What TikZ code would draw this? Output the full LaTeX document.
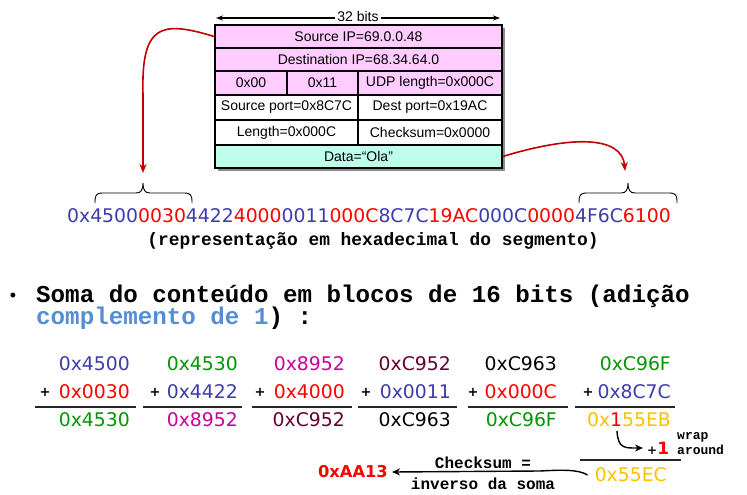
\documentclass[tikz,border=0pt]{standalone}
\usepackage{fontspec}
\setmainfont{Liberation Sans}
\newfontfamily\numf{DejaVu Sans}
\newfontfamily\monob{Liberation Mono}
\usetikzlibrary{arrows.meta}
\definecolor{pinkc}{RGB}{255,204,255}
\definecolor{aquac}{RGB}{190,255,235}
\definecolor{arrowred}{RGB}{192,0,0}
\definecolor{hblue}{RGB}{60,60,170}
\definecolor{hred}{RGB}{255,0,0}
\definecolor{hgreen}{RGB}{0,150,0}
\definecolor{hmag}{RGB}{204,0,153}
\definecolor{hmar}{RGB}{102,0,51}
\definecolor{hyel}{RGB}{255,192,0}
\definecolor{lblue}{RGB}{85,142,213}
\definecolor{shad}{RGB}{140,140,140}
\begin{document}
\begin{tikzpicture}[x=1pt,y=-1pt,
  cell/.style={draw=black, line width=1.5pt, inner sep=0pt, font=\fontsize{14}{16}\selectfont},
  num/.style={font=\numf\fontsize{18.8}{20}\selectfont, inner sep=0pt, anchor=east},
  plussign/.style={font=\numf\bfseries\fontsize{13}{14}\selectfont, inner sep=0pt},
  sumline/.style={line width=1.4pt, draw=black!85},
  redarrow/.style={draw=arrowred, line width=1.6pt, -{Stealth[length=9pt,width=7pt]}},
  blkarrow/.style={draw=black, line width=1.4pt, -{Stealth[length=8pt,width=7pt]}},
  monotxt/.style={font=\monob\bfseries\fontsize{#1}{#1}\selectfont, inner sep=0pt},
  bracestyle/.style={draw=black, line width=0.9pt}
]
\useasboundingbox (0,0) rectangle (747,495);
\fill[white] (0,0) rectangle (747,495);

% ---- 32 bits dimension ----
\coordinate (dl) at (216,18);
\coordinate (dr) at (500,18);
\draw[line width=1.2pt, {Stealth[length=7pt,width=5pt]}-{Stealth[length=7pt,width=5pt]}] (dl) -- (dr);
\node[fill=white, inner sep=2pt, font=\fontsize{14}{16}\selectfont] (bits) at (358,16) {32 bits};

% ---- table ----
\fill[shad] (218,28) rectangle (505,171);
\node[cell, fill=pinkc, minimum width=287pt, minimum height=23pt] (r1) at (358.5,36.5) {Source IP=69.0.0.48};
\node[cell, fill=pinkc, minimum width=287pt, minimum height=23pt] (r2) at (358.5,59.5) {Destination IP=68.34.64.0};
\node[cell, fill=pinkc, minimum width=72pt, minimum height=24pt] (r3a) at (251,83) {0x00};
\node[cell, fill=pinkc, minimum width=71pt, minimum height=24pt] (r3b) at (322.5,83) {0x11};
\node[cell, fill=pinkc, minimum width=144pt, minimum height=24pt] (r3c) at (430,83) {UDP length=0x000C};
\node[cell, fill=white, minimum width=143pt, minimum height=25pt] (r4a) at (286.5,107.5) {Source port=0x8C7C};
\node[cell, fill=white, minimum width=144pt, minimum height=25pt] (r4b) at (430,107.5) {Dest port=0x19AC};
\node[cell, fill=white, minimum width=143pt, minimum height=25pt] (r5a) at (286.5,132.5) {Length=0x000C};
\node[cell, fill=white, minimum width=144pt, minimum height=25pt] (r5b) at (430,132.5) {Checksum=0x0000};
\node[cell, fill=aquac, minimum width=287pt, minimum height=23pt] (r6) at (358.5,156.5) {Data=“Ola”};

% ---- red arrows ----
\coordinate (lt) at (143,173);
\coordinate (rt) at (625,171);
\draw[redarrow] (r1.west) .. controls (160,20) and (141,25) .. (143,95) -- (lt);
\draw[redarrow] (r6.east) .. controls (570,136) and (622,135) .. (rt);

% ---- braces ----
\draw[bracestyle] (95,203) .. controls (95,195) and (96,193) .. (103,193) -- (136,193)
   .. controls (141,193) and (143,190) .. (143,183) .. controls (143,190) and (145,193) .. (150,193)
   -- (184,193) .. controls (191,193) and (192,195) .. (192,203);
\draw[bracestyle] (579,203) .. controls (579,195) and (580,193) .. (587,193) -- (621,193)
   .. controls (626,193) and (628,190) .. (628,183) .. controls (628,190) and (630,193) .. (635,193)
   -- (669,193) .. controls (676,193) and (677,195) .. (677,203);

% ---- hex string ----
\node[font=\numf\fontsize{18.8}{20}\selectfont, inner sep=0pt, anchor=west] (hex) at (67,216)
 {\textcolor{hblue}{0x4500}\textcolor{hred}{0030}\textcolor{hblue}{4422}\textcolor{hred}{4000}\textcolor{hblue}{0011}\textcolor{hred}{000C}\textcolor{hblue}{8C7C}\textcolor{hred}{19AC}\textcolor{hblue}{000C}\textcolor{hred}{0000}\textcolor{hblue}{4F6C}\textcolor{hred}{6100}};
\node[monotxt=17.9, anchor=base] (sub) at (373,245) {(representação em hexadecimal do segmento)};

% ---- bullet ----
\node[font=\fontsize{18}{18}\selectfont, inner sep=0pt] (bul) at (13,297) {•};
\node[monotxt=24.2, anchor=base west] (l1) at (36,302) {Soma do conteúdo em blocos de 16 bits (adição};
\node[monotxt=24.2, anchor=base west] (l2) at (36,324) {\textcolor{lblue}{complemento de 1}) :};

% ---- sums ----
% block 1
\node[num, text=hblue] (a1) at (130,364) {0x4500};
\node[num, text=hred] (b1) at (130,392) {0x0030};
\node[plussign] (p1) at (45,392) {+};
\node[num, text=hgreen] (c1) at (130,420) {0x4530};
\draw[sumline] (35,407) -- (136,407);
% block 2
\node[num, text=hgreen] (a2) at (238,364) {0x4530};
\node[num, text=hblue] (b2) at (238,392) {0x4422};
\node[plussign] (p2) at (155,392) {+};
\node[num, text=hmag] (c2) at (238,420) {0x8952};
\draw[sumline] (143,407) -- (242,407);
% block 3
\node[num, text=hmag] (a3) at (345,364) {0x8952};
\node[num, text=hred] (b3) at (345,392) {0x4000};
\node[plussign] (p3) at (260,392) {+};
\node[num, text=hmar] (c3) at (345,420) {0xC952};
\draw[sumline] (252,407) -- (352,407);
% block 4
\node[num, text=hmar] (a4) at (451,364) {0xC952};
\node[num, text=hblue] (b4) at (451,392) {0x0011};
\node[plussign] (p4) at (366,392) {+};
\node[num, text=black] (c4) at (451,420) {0xC963};
\draw[sumline] (358,407) -- (457,407);
% block 5
\node[num, text=black] (a5) at (557,364) {0xC963};
\node[num, text=hred] (b5) at (557,392) {0x000C};
\node[plussign] (p5) at (473,392) {+};
\node[num, text=hgreen] (c5) at (557,420) {0xC96F};
\draw[sumline] (468,407) -- (568,407);
% block 6
\node[num, text=hgreen] (a6) at (671,364) {0xC96F};
\node[num, text=hblue] (b6) at (671,392) {0x8C7C};
\node[plussign] (p6) at (588,392) {+};
\node[num] (c6) at (671,420) {\textcolor{hyel}{0x}\textcolor{hred}{1}\textcolor{hyel}{55EB}};
\draw[sumline] (575,407) -- (675,407);

% ---- wrap around ----
\coordinate (w0) at (617,431);
\node[inner sep=0pt, anchor=west] (p1w) at (647,448)
  {{\numf\bfseries\fontsize{12}{12}\selectfont +}{\numf\bfseries\fontsize{17}{17}\selectfont\textcolor{hred}{1}}};
\draw[blkarrow] (w0) .. controls (618,449) and (625,448) .. ([xshift=-4pt]p1w.west);
\node[monotxt=13, anchor=base west] (wr) at (677,439) {wrap};
\node[monotxt=13, anchor=base west] (ar) at (677,454) {around};
\draw[sumline] (580,460) -- (681,460);
\node[num, text=hyel] (s55) at (667,475) {0x55EC};

% ---- checksum ----
\node[font=\numf\bfseries\fontsize{16.3}{17}\selectfont, text=hred, inner sep=0pt, anchor=east] (aa) at (388,472) {0xAA13};
\draw[blkarrow] ([xshift=-7pt]s55.west) .. controls (578,469) and (560,470) .. (540,471) -- ([xshift=4pt]aa.east);
\node[monotxt=16, anchor=base] (ck1) at (483,468) {Checksum =};
\node[monotxt=16, anchor=base] (ck2) at (483,489) {inverso da soma};
\end{tikzpicture}
\end{document}
